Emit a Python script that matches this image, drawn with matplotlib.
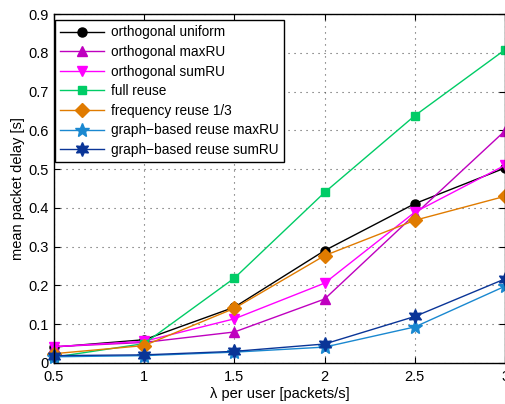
import matplotlib
matplotlib.use("Agg")
import matplotlib.pyplot as plt

plt.rcParams['font.family'] = ['Liberation Sans', 'DejaVu Sans']

lam = [0.5, 1.0, 1.5, 2.0, 2.5, 3.0]

orth_uniform = [0.041, 0.060, 0.144, 0.290, 0.411, 0.503]
orth_maxru = [0.042, 0.053, 0.080, 0.165, 0.383, 0.599]
orth_sumru = [0.042, 0.056, 0.114, 0.206, 0.389, 0.510]
full_reuse = [0.015, 0.050, 0.219, 0.440, 0.638, 0.808]
freq_reuse = [0.024, 0.045, 0.141, 0.277, 0.368, 0.430]
graph_maxru = [0.016, 0.019, 0.028, 0.041, 0.093, 0.198]
graph_sumru = [0.019, 0.021, 0.030, 0.049, 0.120, 0.217]

labels = ["orthogonal uniform", "orthogonal maxRU", "orthogonal sumRU",
          "full reuse", "frequency reuse 1/3",
          "graph\u2212based reuse maxRU", "graph\u2212based reuse sumRU"]
xticks = [0.5, 1, 1.5, 2, 2.5, 3]
xticklabels = ["0.5", "1", "1.5", "2", "2.5", "3"]
yticks = [0, 0.1, 0.2, 0.3, 0.4, 0.5, 0.6, 0.7, 0.8, 0.9]
yticklabels = ["0", "0.1", "0.2", "0.3", "0.4", "0.5", "0.6", "0.7", "0.8", "0.9"]

series = [orth_uniform, orth_maxru, orth_sumru, full_reuse, freq_reuse,
          graph_maxru, graph_sumru]
styles = [
    dict(color="#000000", marker="o", ms=6.5),
    dict(color="#bf00bf", marker="^", ms=7),
    dict(color="#ff00ff", marker="v", ms=7),
    dict(color="#00cc66", marker="s", ms=5.5),
    dict(color="#e07b00", marker="D", ms=7),
    dict(color="#1a88d0", marker="*", ms=10),
    dict(color="#0a3597", marker=(6, 1, 0), ms=10),
]

fig = plt.figure(figsize=(5.06, 4.04), dpi=100)
ax = fig.add_axes([0.1067, 0.1015, 0.8915, 0.8638])

for vals, lab, st in zip(series, labels, styles):
    ax.plot(lam, vals, color=st["color"], marker=st["marker"],
            markersize=st["ms"], linewidth=1.0, label=lab,
            markeredgecolor=st["color"], markerfacecolor=st["color"],
            clip_on=False)

ax.set_xlim(0.5, 3)
ax.set_ylim(0, 0.9)
ax.set_xticks(xticks)
ax.set_xticklabels(xticklabels)
ax.set_yticks(yticks)
ax.set_yticklabels(yticklabels)
ax.tick_params(direction="in", top=True, right=True, labelsize=10.5,
               length=4, width=0.8)
ax.tick_params(axis="x", pad=5)
ax.tick_params(axis="y", pad=4)
ax.grid(True, linestyle=(0, (1, 4.4)), color="#555555", linewidth=0.8)
for sp in ax.spines.values():
    sp.set_linewidth(1.0)

ax.set_xlabel("\u03bb per user [packets/s]", fontsize=10.5, labelpad=2)
ax.set_ylabel("mean packet delay [s]", fontsize=10.5, labelpad=2)

leg = ax.legend(loc="upper left", bbox_to_anchor=(0.002, 0.983),
                fontsize=9.8, frameon=True, fancybox=False,
                edgecolor="black", framealpha=1, borderpad=0.4,
                labelspacing=0.41, handlelength=3.2, handletextpad=0.5,
                borderaxespad=0.0)
leg.get_frame().set_linewidth(1.0)

fig.savefig("out.png", dpi=100)
